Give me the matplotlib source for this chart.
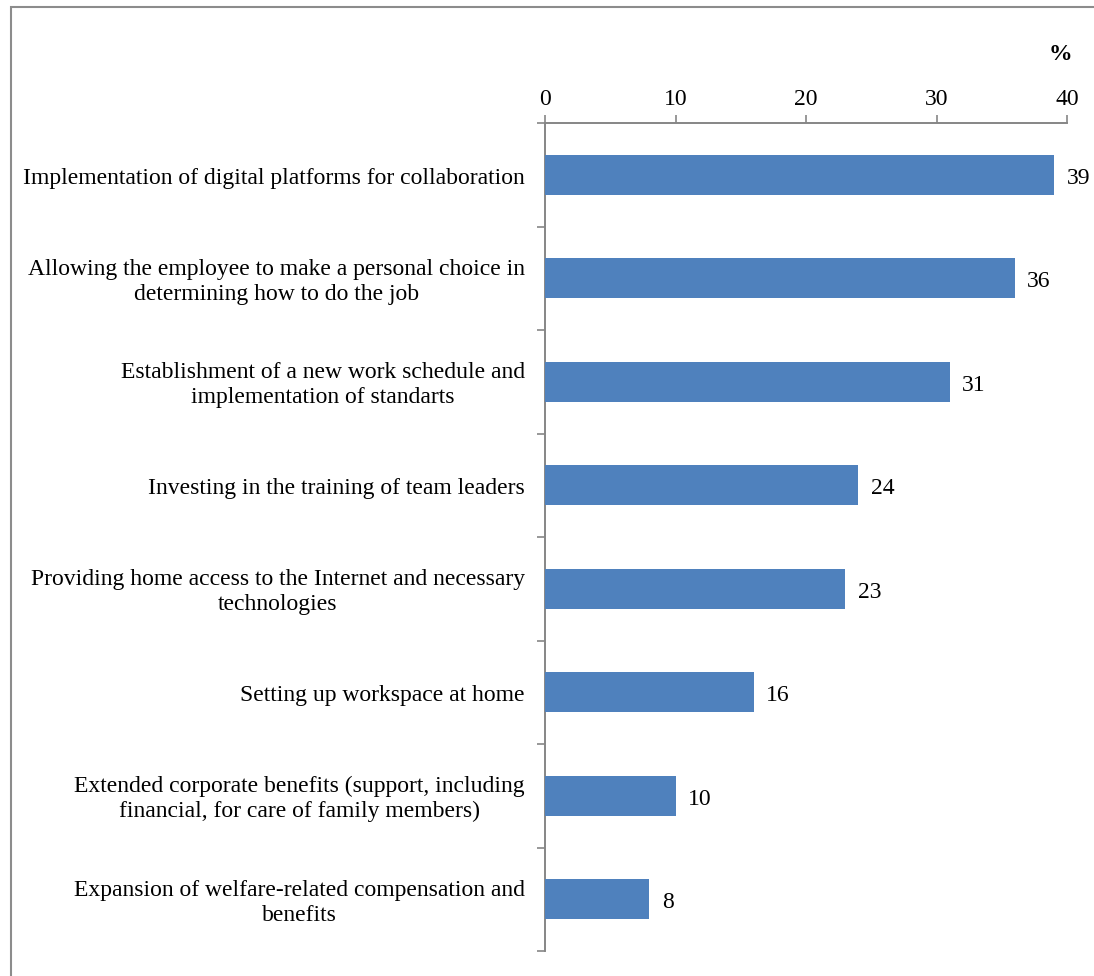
import matplotlib
matplotlib.use("Agg")
import matplotlib.pyplot as plt
from matplotlib.patches import Rectangle

categories = [
    "Implementation of digital platforms for collaboration",
    "Allowing the employee to make a personal choice in\ndetermining how to do the job",
    "Establishment of a new work schedule and\nimplementation of standarts",
    "Investing in the training of team leaders",
    "Providing home access to the Internet and necessary\ntechnologies",
    "Setting up workspace at home",
    "Extended corporate benefits (support, including\nfinancial, for care of family members)",
    "Expansion of welfare-related compensation and\nbenefits",
]
values = [39, 36, 31, 24, 23, 16, 10, 8]
xticks = [0, 10, 20, 30, 40]

BAR = "#4F81BD"
AXIS = "#868686"
FONT = "Liberation Serif"
FS = 17

plt.rcParams["font.family"] = FONT

fig = plt.figure(figsize=(10.94, 9.76), dpi=100)
fig.patch.set_facecolor("white")
fig.patches.append(Rectangle((11 / 1094, -0.1), 1.2, 1 - 7 / 976 + 0.1,
                             transform=fig.transFigure, fill=False,
                             edgecolor="#8c8c8c", linewidth=1.5))

ax = fig.add_axes([545 / 1094, 1 - 951 / 976, (1067 - 545) / 1094, (951 - 123) / 976])
n = len(categories)
ypos = list(range(n))
ax.barh(ypos, values, height=0.39, color=BAR, zorder=3)
ax.set_xlim(0, 40)
ax.set_ylim(n - 0.5, -0.5)

ax.xaxis.tick_top()
ax.set_xticks(xticks)
ax.set_xticklabels([str(t) for t in xticks], fontsize=FS)
ax.tick_params(axis="x", direction="out", length=6, color=AXIS, width=1.2, pad=3.5)

ax.set_yticks([i - 0.5 for i in range(n + 1)])
ax.set_yticklabels([])
ax.tick_params(axis="y", direction="out", length=6, color=AXIS, width=1.2)

for s in ("right", "bottom"):
    ax.spines[s].set_visible(False)
for s in ("top", "left"):
    ax.spines[s].set_color(AXIS)
    ax.spines[s].set_linewidth(1.4)

for y, lab in zip(ypos, categories):
    ax.annotate(lab, xy=(0, y), xycoords="data", xytext=(-14.5, -2.5),
                textcoords="offset points", ha="right", va="center",
                multialignment="center", fontsize=FS, linespacing=1.25)

for y, v in zip(ypos, values):
    ax.annotate(str(v), xy=(v, y), xytext=(9, -2.5), textcoords="offset points",
                ha="left", va="center", fontsize=FS)

fig.text(1060 / 1094, 1 - 54 / 976, "%", ha="center", va="center",
         fontsize=FS, fontweight="bold")

fig.savefig("out.png", dpi=100, facecolor="white")
